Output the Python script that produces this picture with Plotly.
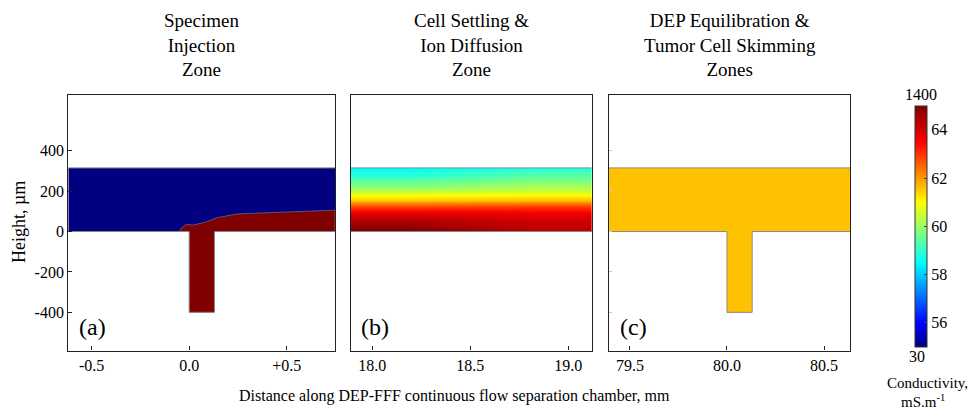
import plotly.graph_objects as go

W, H = 975, 409
FONT = "Liberation Serif, Times New Roman, Times, serif"

# ---------------- data ----------------
panel_titles = ["Specimen<br>Injection<br>Zone",
                "Cell Settling &<br>Ion Diffusion<br>Zone",
                "DEP Equilibration &<br>Tumor Cell Skimming<br>Zones"]
panel_letters = ["(a)", "(b)", "(c)"]

xrange_a = [-0.62, 0.748]
xrange_b = [17.891, 19.119]
xrange_c = [79.392, 80.634]
yrange = [-589, 676]

xticks_a = [-0.5, 0.0, 0.5]
xticklabels_a = ["-0.5", "0.0", "+0.5"]
xticks_b = [18.0, 18.5, 19.0]
xticklabels_b = ["18.0", "18.5", "19.0"]
xticks_c = [79.5, 80.0, 80.5]
xticklabels_c = ["79.5", "80.0", "80.5"]
yticks = [-400, -200, 0, 200, 400]
yticklabels = ["-400", "-200", "0", "200", "400"]

channel_height = 315          # µm
port_bottom = -400            # µm
port_a = [0.0, 0.13]          # mm
port_c = [80.0, 80.13]        # mm

# conductivity colour scale (colorbar units)
c_min, c_max = 55, 65
cbar_ticks = [56, 58, 60, 62, 64]
cbar_top_label = "1400"
cbar_bottom_label = "30"

# panel (a): buffer / specimen
val_buffer = 55
val_specimen = 65
interface_x = [-0.051, -0.035, -0.013, 0.021, 0.09, 0.141, 0.244, 0.449, 0.748]
interface_y = [0, 22, 35, 32, 48, 68, 87, 95, 106]

# panel (b): vertical conductivity profile (left end / right end)
b_heights = [0, 50, 91, 124, 157, 182, 224, 274, 315]
b_left = [65.0, 64.5, 63.8, 62.8, 61.5, 60.8, 59.8, 59.0, 58.5]
b_right = [64.3, 64.1, 63.7, 62.9, 61.6, 60.9, 60.1, 59.4, 58.9]

# panel (c): equilibrated conductivity
val_c = 61.6

jet = [[0.0, "rgb(0,0,128)"], [0.1, "rgb(0,0,255)"], [0.35, "rgb(0,255,255)"],
       [0.6, "rgb(255,255,0)"], [0.85, "rgb(255,0,0)"], [1.0, "rgb(128,0,0)"]]
specimen_color = "rgb(128,0,0)"
outline_color = "#8a8a8a"

# ---------------- figure ----------------
fig = go.Figure()

# panel (a)
fig.add_trace(go.Heatmap(x=xrange_a, y=[0, channel_height], z=[[val_buffer]],
                         coloraxis="coloraxis", xaxis="x", yaxis="y", hoverinfo="skip"))
fig.add_trace(go.Heatmap(x=port_a, y=[port_bottom, 0], z=[[val_specimen]],
                         coloraxis="coloraxis", xaxis="x", yaxis="y", hoverinfo="skip"))
fig.add_trace(go.Scatter(x=interface_x + [interface_x[-1]], y=interface_y + [0],
                         fill="toself", fillcolor=specimen_color, mode="lines",
                         line=dict(width=0.6, color="#6a8a9a"), xaxis="x", yaxis="y",
                         hoverinfo="skip"))

# panel (b)
b_edges = [b_heights[0]] + [(b_heights[i] + b_heights[i + 1]) / 2
                            for i in range(len(b_heights) - 1)] + [b_heights[-1]]
b_xedges = [xrange_b[0], (xrange_b[0] + xrange_b[1]) / 2, xrange_b[1]]
fig.add_trace(go.Heatmap(x=b_xedges, y=b_edges,
                         z=[[l, r] for l, r in zip(b_left, b_right)],
                         zsmooth="best", coloraxis="coloraxis",
                         xaxis="x2", yaxis="y2", hoverinfo="skip"))

# panel (c)
fig.add_trace(go.Heatmap(x=xrange_c, y=[0, channel_height], z=[[val_c]],
                         coloraxis="coloraxis", xaxis="x3", yaxis="y3", hoverinfo="skip"))
fig.add_trace(go.Heatmap(x=port_c, y=[port_bottom, 0], z=[[val_c]],
                         coloraxis="coloraxis", xaxis="x3", yaxis="y3", hoverinfo="skip"))

# channel outlines
def outline(xr, port, xa, ya):
    xs = [xr[0], xr[1], None, xr[0]]
    ys = [channel_height, channel_height, None, 0]
    if port is None:
        xs += [xr[1]]
        ys += [0]
    else:
        xs += [port[0], port[0], port[1], port[1], xr[1]]
        ys += [0, port_bottom, port_bottom, 0, 0]
    fig.add_trace(go.Scatter(x=xs, y=ys, mode="lines",
                             line=dict(color=outline_color, width=1),
                             xaxis=xa, yaxis=ya, hoverinfo="skip"))

outline(xrange_a, port_a, "x", "y")
outline(xrange_b, None, "x2", "y2")
outline(xrange_c, port_c, "x3", "y3")

# ---------------- layout ----------------
def px_x(p):
    return p / W

def px_y(p):
    return 1 - p / H

ydom = [px_y(350.5), px_y(95)]
xdoms = [[px_x(68.3), px_x(335)], [px_x(351), px_x(591.7)], [px_x(609), px_x(850)]]

axis_common = dict(showline=True, mirror=True, linecolor="#222", linewidth=1.3,
                   showgrid=False, zeroline=False, ticks="inside", ticklen=4,
                   tickcolor="#222", tickfont=dict(family=FONT, size=16, color="black"))

layout = dict(
    width=W, height=H, margin=dict(l=0, r=0, t=0, b=0),
    paper_bgcolor="white", plot_bgcolor="white", showlegend=False,
    font=dict(family=FONT, color="black"),
    coloraxis=dict(
        colorscale=jet, cmin=c_min, cmax=c_max,
        colorbar=dict(
            x=px_x(915), xanchor="left", y=px_y(105.7), yanchor="top",
            thickness=12, thicknessmode="pixels", len=241, lenmode="pixels",
            xpad=0, ypad=0, outlinewidth=1, outlinecolor="#333",
            tickvals=cbar_ticks, ticktext=[str(t) for t in cbar_ticks],
            ticks="inside", ticklen=3, tickcolor="#444",
            tickfont=dict(family=FONT, size=16, color="black"),
        ),
    ),
)

xr = [xrange_a, xrange_b, xrange_c]
xt = [(xticks_a, xticklabels_a), (xticks_b, xticklabels_b), (xticks_c, xticklabels_c)]
for i in range(3):
    sfx = "" if i == 0 else str(i + 1)
    layout["xaxis" + sfx] = dict(axis_common, domain=xdoms[i], range=xr[i],
                                 anchor="y" + sfx, tickvals=xt[i][0], ticktext=xt[i][1])
    yax = dict(axis_common, domain=ydom, range=yrange, anchor="x" + sfx,
               tickvals=yticks, ticktext=yticklabels)
    if i > 0:
        yax.update(showticklabels=False, ticklen=3,
                   tickcolor="#cccccc" if i == 2 else "rgba(0,0,0,0)")
    layout["yaxis" + sfx] = yax

annotations = []
for i in range(3):
    cx = (xdoms[i][0] + xdoms[i][1]) / 2
    annotations.append(dict(text=panel_titles[i], x=cx, y=px_y(45), xref="paper", yref="paper",
                            xanchor="center", yanchor="middle", showarrow=False,
                            font=dict(family=FONT, size=19, color="black")))
letter_x = [92, 375, 633]
for i in range(3):
    annotations.append(dict(text=panel_letters[i], x=px_x(letter_x[i]), y=px_y(327),
                            xref="paper", yref="paper", xanchor="center", yanchor="middle",
                            showarrow=False, font=dict(family=FONT, size=24, color="black")))
annotations += [
    dict(text="Height, µm", x=px_x(19), y=px_y(222), textangle=-90,
         font=dict(family=FONT, size=18, color="black")),
    dict(text="Distance along DEP-FFF continuous flow separation chamber, mm",
         x=px_x(454), y=px_y(396), font=dict(family=FONT, size=16, color="black")),
    dict(text=cbar_top_label, x=px_x(921), y=px_y(94),
         font=dict(family=FONT, size=16, color="black")),
    dict(text=cbar_bottom_label, x=px_x(917), y=px_y(356),
         font=dict(family=FONT, size=16, color="black")),
    dict(text="Conductivity,", x=px_x(927), y=px_y(383),
         font=dict(family=FONT, size=15, color="black")),
    dict(text="mS.m<sup>-1</sup>", x=px_x(923), y=px_y(401),
         font=dict(family=FONT, size=15, color="black")),
]
for a in annotations[6:]:
    a.update(xref="paper", yref="paper", xanchor="center", yanchor="middle", showarrow=False)
layout["annotations"] = annotations

fig.update_layout(**layout)
fig.write_html("out.html", config={"displayModeBar": False},
               post_script="document.body.style.margin='0';document.body.style.padding='0';")
